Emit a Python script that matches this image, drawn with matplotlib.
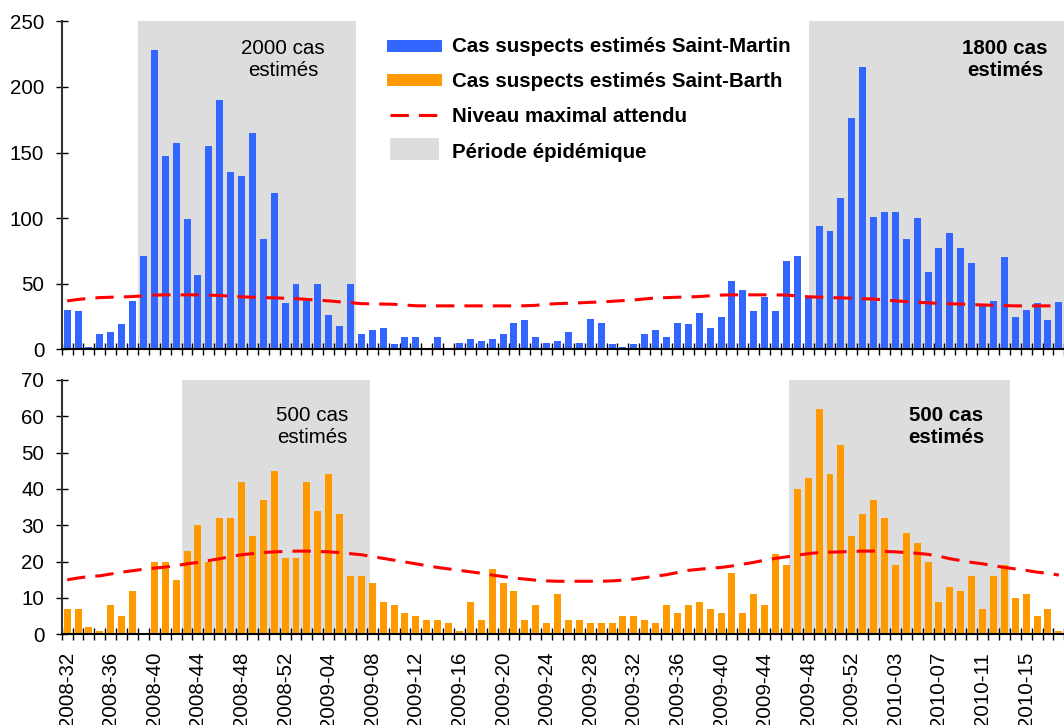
import matplotlib
matplotlib.use('Agg')
import matplotlib.pyplot as plt
from matplotlib.patches import Rectangle
from matplotlib.lines import Line2D

plt.rcParams['font.family'] = ['Liberation Sans', 'DejaVu Sans']

# weekly estimated suspected cases, 2008-32 .. 2010-18
saint_martin = [30, 29, 2, 12, 13, 19, 37, 71, 228, 147, 157, 99, 57, 155, 190, 135,
                132, 165, 84, 119, 35, 50, 37, 50, 26, 18, 50, 12, 15, 16, 4, 9,
                9, 0, 9, 0, 5, 8, 6, 8, 12, 20, 22, 9, 5, 6, 13, 5,
                23, 20, 4, 2, 4, 12, 15, 9, 20, 19, 28, 16, 25, 52, 45, 29,
                40, 29, 67, 71, 40, 94, 90, 115, 176, 215, 101, 105, 105, 84, 100, 59,
                77, 89, 77, 66, 33, 37, 70, 25, 30, 35, 22, 36]
saint_barth = [7, 7, 2, 1, 8, 5, 12, 0, 20, 20, 15, 23, 30, 20, 32, 32,
               42, 27, 37, 45, 21, 21, 42, 34, 44, 33, 16, 16, 14, 9, 8, 6,
               5, 4, 4, 3, 1, 9, 4, 18, 14, 12, 4, 8, 3, 11, 4, 4,
               3, 3, 3, 5, 5, 4, 3, 8, 6, 8, 9, 7, 6, 17, 6, 11,
               8, 22, 19, 40, 43, 62, 44, 52, 27, 33, 37, 32, 19, 28, 25, 20,
               9, 13, 12, 16, 7, 16, 19, 10, 11, 5, 7, 1]

# expected maximum level (seuil)
seuil_sm = [36.9, 38.0, 38.8, 39.4, 39.7, 39.9, 40.2, 40.8, 41.3, 41.5, 41.5, 41.5, 41.5, 41.3, 41.0, 40.5,
            40.0, 39.7, 39.4, 39.2, 38.9, 38.6, 38.0, 37.5, 36.9, 36.2, 35.5, 34.8, 34.6, 34.5, 34.3, 33.7,
            33.2, 33.1, 33.1, 33.1, 33.1, 33.1, 33.1, 33.1, 33.1, 33.1, 33.2, 33.5, 34.4, 34.8, 35.1, 35.4,
            35.8, 36.1, 36.6, 37.1, 37.6, 38.4, 39.1, 39.4, 39.7, 39.9, 40.2, 40.8, 41.3, 41.5, 41.5, 41.5,
            41.5, 41.5, 41.3, 40.7, 40.0, 39.8, 39.4, 39.2, 38.9, 38.6, 38.3, 37.6, 36.9, 36.4, 35.9, 35.4,
            35.0, 34.7, 34.5, 34.1, 33.8, 33.5, 33.3, 33.1, 33.1, 33.1, 33.1, 33.1]
seuil_sb = [15.0, 15.5, 15.9, 16.1, 16.6, 17.1, 17.5, 17.9, 18.2, 18.5, 18.9, 19.4, 19.8, 20.3, 20.8, 21.4,
            21.9, 22.2, 22.5, 22.7, 22.8, 22.9, 22.9, 22.8, 22.7, 22.5, 22.2, 21.9, 21.4, 20.9, 20.4, 19.9,
            19.4, 18.9, 18.4, 18.0, 17.6, 17.2, 16.8, 16.3, 15.9, 15.5, 15.2, 14.9, 14.7, 14.6, 14.6, 14.6,
            14.6, 14.6, 14.7, 14.9, 15.2, 15.6, 16.0, 16.4, 17.0, 17.6, 17.9, 18.2, 18.4, 18.8, 19.3, 19.8,
            20.4, 20.9, 21.3, 21.8, 22.2, 22.5, 22.6, 22.7, 22.8, 22.9, 22.9, 22.8, 22.7, 22.5, 22.3, 22.0,
            21.5, 20.8, 20.3, 19.8, 19.4, 18.9, 18.4, 18.0, 17.6, 17.1, 16.8, 16.3]

tick_labels = ['2008-32', '2008-36', '2008-40', '2008-44', '2008-48', '2008-52',
               '2009-04', '2009-08', '2009-12', '2009-16', '2009-20', '2009-24',
               '2009-28', '2009-32', '2009-36', '2009-40', '2009-44', '2009-48',
               '2009-52', '2010-03', '2010-07', '2010-11', '2010-15']

# epidemic periods (in week-index units)
periodes_sm = [(6.5, 26.5), (68.1, 95)]
periodes_sb = [(10.5, 27.75), (66.2, 86.56)]
notes_sm = ['2000 cas\nestimés', '1800 cas\nestimés']
notes_sb = ['500 cas\nestimés', '500 cas\nestimés']

BLUE = '#3366FF'
ORANGE = '#FF9900'
GREY = '#DDDDDD'
RED = '#FF0000'
FS = 14.8

weeks = ['2008-%02d' % w for w in range(32, 53)] + \
        ['2009-%02d' % w for w in range(1, 54)] + \
        ['2010-%02d' % w for w in range(1, 19)]
x = list(range(len(weeks)))

W, H = 1064, 725
fig = plt.figure(figsize=(W / 100, H / 100), dpi=100)


def px_axes(left, right, top, bottom):
    return fig.add_axes([left / W, 1 - bottom / H, (right - left) / W, (bottom - top) / H])


def draw_panel(ax, values, seuil, color, periodes, ymax, ystep):
    for a, b in periodes:
        ax.axvspan(a, b, color=GREY, lw=0, zorder=0)
    ax.bar(x, values, width=0.64, color=color, zorder=2)
    ax.plot(x, seuil, color=RED, lw=2.2, dashes=(6, 3.3), zorder=3)
    ax.set_xlim(-0.5, -0.5 + (W - 61.7) / 10.95)
    ax.set_ylim(0, ymax)
    ax.set_yticks(range(0, ymax + 1, ystep))
    ax.set_xticks([i - 0.5 for i in x] + [x[-1] + 0.5], minor=True)
    for s in ['top', 'right']:
        ax.spines[s].set_visible(False)
    ax.spines['left'].set_color('#333333')
    ax.spines['left'].set_linewidth(1.5)
    ax.spines['bottom'].set_linewidth(1.5)
    ax.tick_params(axis='y', direction='inout', length=9, width=1, pad=8, labelsize=FS)
    ax.tick_params(axis='x', which='minor', direction='inout', length=9, width=1)
    ax.patch.set_visible(False)


ax1 = px_axes(61.7, 1064 + 0.3, 21.3, 349.3)
draw_panel(ax1, saint_martin, seuil_sm, BLUE, periodes_sm, 250, 50)
ax1.set_xticks([])

ax2 = px_axes(61.7, 1064 + 0.3, 380, 634.3)
draw_panel(ax2, saint_barth, seuil_sb, ORANGE, periodes_sb, 70, 10)
ax2.set_xticks([weeks.index(t) for t in tick_labels])
ax2.set_xticklabels(tick_labels, rotation=90, fontsize=FS)
ax2.tick_params(axis='x', which='major', length=0, pad=12.7)

# overlay in pixel coordinates for legend and notes
ov = fig.add_axes([0, 0, 1, 1])
ov.set_xlim(0, W)
ov.set_ylim(H, 0)
ov.axis('off')

ov.text(283, 59, notes_sm[0], ha='center', va='center', fontsize=FS)
ov.text(1005, 59, notes_sm[1], ha='center', va='center', fontsize=FS, fontweight='bold')
ov.text(312, 426, notes_sb[0], ha='center', va='center', fontsize=FS)
ov.text(946, 426, notes_sb[1], ha='center', va='center', fontsize=FS, fontweight='bold')

leg_labels = ['Cas suspects estimés Saint-Martin', 'Cas suspects estimés Saint-Barth',
              'Niveau maximal attendu', 'Période épidémique']
leg_y = [46.5, 81.5, 116, 152]
ov.add_patch(Rectangle((386.7, 40.3), 55, 11.5, color=BLUE, lw=0))
ov.add_patch(Rectangle((386.7, 73.7), 55, 12, color=ORANGE, lw=0))
ov.add_line(Line2D([390, 440], [115, 115], color=RED, lw=2.2, dashes=(6, 3.3)))
ov.add_patch(Rectangle((390, 137.7), 49, 22.3, color=GREY, lw=0))
for lbl, yy in zip(leg_labels, leg_y):
    ov.text(452, yy, lbl, ha='left', va='center', fontsize=FS, fontweight='bold')

fig.savefig('out.png', dpi=100)
